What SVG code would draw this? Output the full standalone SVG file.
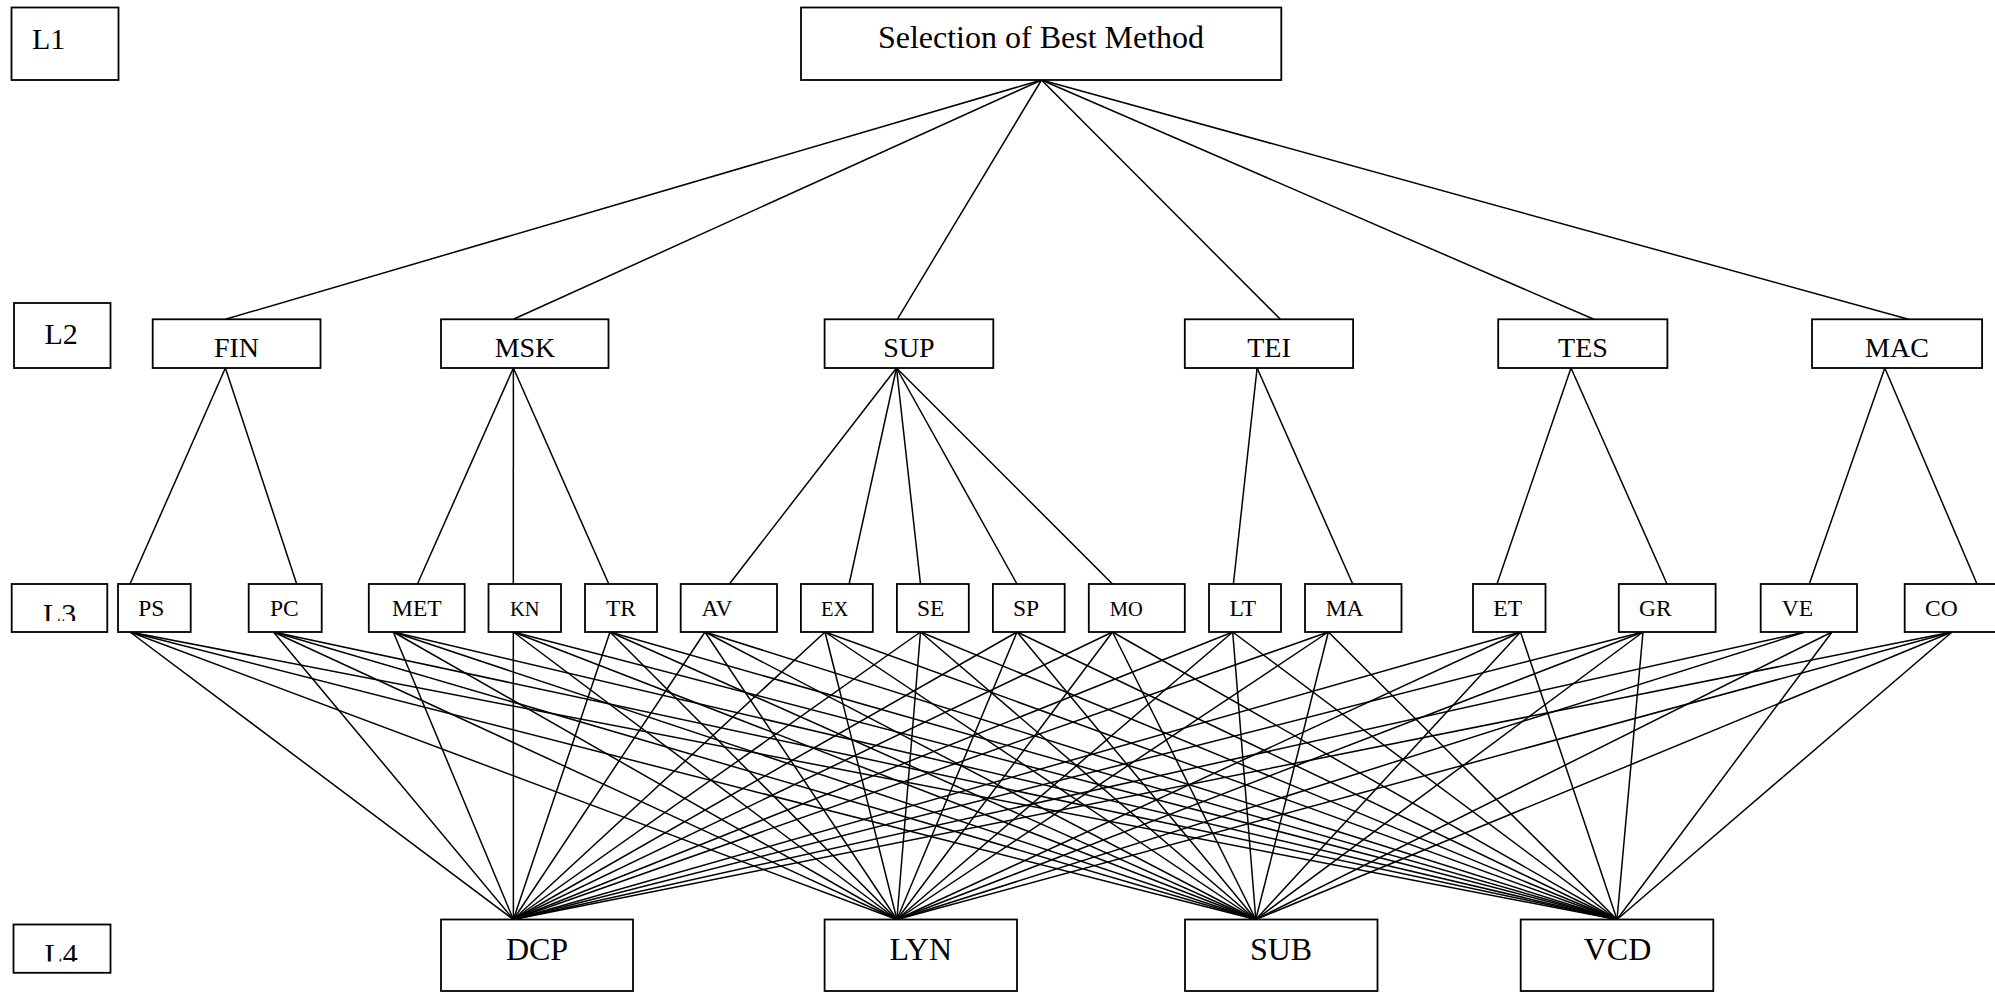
<svg xmlns="http://www.w3.org/2000/svg" width="1995" height="992" viewBox="0 0 1995 992">
<style>
rect{fill:#fff;stroke:#000;stroke-width:1.8}
text{font-family:"Liberation Serif","Times New Roman",serif;fill:#000}
.c line{stroke:#000;stroke-width:1.5}
.t1{font-size:32px}
.lv{font-size:30px}
.t2{font-size:28px;text-anchor:middle}
.t3{font-size:23.5px}
.t3s{font-size:20.5px}
.t4{font-size:32px;text-anchor:middle}
</style>
<defs>
<clipPath id="clipL3"><rect x="0" y="580" width="120" height="41"/></clipPath>
<clipPath id="clipL4"><rect x="0" y="920" width="120" height="41.5"/></clipPath>
</defs>
<rect x="0" y="0" width="1995" height="992" style="stroke:none"/>
<g class="c" id="connectors">
<line x1="1041.5" y1="80" x2="225.4" y2="319.3"/>
<line x1="1041.5" y1="80" x2="513.4" y2="319.3"/>
<line x1="1041.5" y1="80" x2="897.3" y2="319.3"/>
<line x1="1041.5" y1="80" x2="1280.4" y2="319.3"/>
<line x1="1041.5" y1="80" x2="1593.8" y2="319.3"/>
<line x1="1041.5" y1="80" x2="1908.5" y2="319.3"/>
<line x1="225.4" y1="368" x2="130" y2="584"/>
<line x1="225.4" y1="368" x2="296.7" y2="584"/>
<line x1="513.4" y1="368" x2="417.4" y2="584"/>
<line x1="513.4" y1="368" x2="513.3" y2="584"/>
<line x1="513.4" y1="368" x2="608.8" y2="584"/>
<line x1="896.5" y1="368" x2="729.4" y2="584"/>
<line x1="896.5" y1="368" x2="849.1" y2="584"/>
<line x1="896.5" y1="368" x2="920.5" y2="584"/>
<line x1="896.5" y1="368" x2="1017" y2="584"/>
<line x1="896.5" y1="368" x2="1112.5" y2="584"/>
<line x1="1257.1" y1="368" x2="1233.4" y2="584"/>
<line x1="1257.1" y1="368" x2="1352.7" y2="584"/>
<line x1="1571" y1="368" x2="1497" y2="584"/>
<line x1="1571" y1="368" x2="1667" y2="584"/>
<line x1="1884.8" y1="368" x2="1809.3" y2="584"/>
<line x1="1884.8" y1="368" x2="1977" y2="584"/>
<line x1="130" y1="632" x2="513.4" y2="919.5"/>
<line x1="130" y1="632" x2="896.9" y2="919.5"/>
<line x1="130" y1="632" x2="1255.8" y2="919.5"/>
<line x1="130" y1="632" x2="1617" y2="919.5"/>
<line x1="273.5" y1="632" x2="513.4" y2="919.5"/>
<line x1="273.5" y1="632" x2="896.9" y2="919.5"/>
<line x1="273.5" y1="632" x2="1255.8" y2="919.5"/>
<line x1="273.5" y1="632" x2="1617" y2="919.5"/>
<line x1="393.3" y1="632" x2="513.4" y2="919.5"/>
<line x1="393.3" y1="632" x2="896.9" y2="919.5"/>
<line x1="393.3" y1="632" x2="1255.8" y2="919.5"/>
<line x1="393.3" y1="632" x2="1617" y2="919.5"/>
<line x1="513.3" y1="632" x2="513.4" y2="919.5"/>
<line x1="513.3" y1="632" x2="896.9" y2="919.5"/>
<line x1="513.3" y1="632" x2="1255.8" y2="919.5"/>
<line x1="513.3" y1="632" x2="1617" y2="919.5"/>
<line x1="610" y1="632" x2="513.4" y2="919.5"/>
<line x1="610" y1="632" x2="896.9" y2="919.5"/>
<line x1="610" y1="632" x2="1255.8" y2="919.5"/>
<line x1="610" y1="632" x2="1617" y2="919.5"/>
<line x1="705" y1="632" x2="513.4" y2="919.5"/>
<line x1="705" y1="632" x2="896.9" y2="919.5"/>
<line x1="705" y1="632" x2="1255.8" y2="919.5"/>
<line x1="705" y1="632" x2="1617" y2="919.5"/>
<line x1="825" y1="632" x2="513.4" y2="919.5"/>
<line x1="825" y1="632" x2="896.9" y2="919.5"/>
<line x1="825" y1="632" x2="1255.8" y2="919.5"/>
<line x1="825" y1="632" x2="1617" y2="919.5"/>
<line x1="920.5" y1="632" x2="513.4" y2="919.5"/>
<line x1="920.5" y1="632" x2="896.9" y2="919.5"/>
<line x1="920.5" y1="632" x2="1255.8" y2="919.5"/>
<line x1="920.5" y1="632" x2="1617" y2="919.5"/>
<line x1="1017" y1="632" x2="513.4" y2="919.5"/>
<line x1="1017" y1="632" x2="896.9" y2="919.5"/>
<line x1="1017" y1="632" x2="1255.8" y2="919.5"/>
<line x1="1017" y1="632" x2="1617" y2="919.5"/>
<line x1="1112.5" y1="632" x2="513.4" y2="919.5"/>
<line x1="1112.5" y1="632" x2="896.9" y2="919.5"/>
<line x1="1112.5" y1="632" x2="1255.8" y2="919.5"/>
<line x1="1112.5" y1="632" x2="1617" y2="919.5"/>
<line x1="1232.7" y1="632" x2="513.4" y2="919.5"/>
<line x1="1232.7" y1="632" x2="896.9" y2="919.5"/>
<line x1="1232.7" y1="632" x2="1255.8" y2="919.5"/>
<line x1="1232.7" y1="632" x2="1617" y2="919.5"/>
<line x1="1328.4" y1="632" x2="513.4" y2="919.5"/>
<line x1="1328.4" y1="632" x2="896.9" y2="919.5"/>
<line x1="1328.4" y1="632" x2="1255.8" y2="919.5"/>
<line x1="1328.4" y1="632" x2="1617" y2="919.5"/>
<line x1="1520.5" y1="632" x2="513.4" y2="919.5"/>
<line x1="1520.5" y1="632" x2="896.9" y2="919.5"/>
<line x1="1520.5" y1="632" x2="1255.8" y2="919.5"/>
<line x1="1520.5" y1="632" x2="1617" y2="919.5"/>
<line x1="1643" y1="632" x2="513.4" y2="919.5"/>
<line x1="1643" y1="632" x2="896.9" y2="919.5"/>
<line x1="1643" y1="632" x2="1255.8" y2="919.5"/>
<line x1="1643" y1="632" x2="1617" y2="919.5"/>
<line x1="1805" y1="632" x2="513.4" y2="919.5"/>
<line x1="1805" y1="632" x2="896.9" y2="919.5"/>
<line x1="1832" y1="632" x2="1255.8" y2="919.5"/>
<line x1="1832" y1="632" x2="1617" y2="919.5"/>
<line x1="1952" y1="632" x2="513.4" y2="919.5"/>
<line x1="1952" y1="632" x2="896.9" y2="919.5"/>
<line x1="1952" y1="632" x2="1255.8" y2="919.5"/>
<line x1="1952" y1="632" x2="1617" y2="919.5"/>
</g>
<g id="L1"><rect x="11.5" y="7.5" width="107" height="72.5"/><text class="lv" x="32" y="48.5">L1</text></g>
<g id="L2"><rect x="14" y="303" width="96.5" height="65"/><text class="lv" x="44.5" y="343.5">L2</text></g>
<g id="L3"><rect x="11.7" y="584" width="95.6" height="48"/><text class="lv" x="43" y="624" clip-path="url(#clipL3)">L3</text></g>
<g id="L4"><rect x="13.5" y="924.5" width="97" height="48.3"/><text class="lv" x="44.5" y="964" clip-path="url(#clipL4)">L4</text></g>
<g id="root"><rect x="801" y="7.5" width="480.3" height="72.5"/><text class="t1" x="1041" y="47.7" text-anchor="middle">Selection of Best Method</text></g>
<g id="FIN"><rect x="152.7" y="319.3" width="167.8" height="48.7"/><text class="t2" x="236.5" y="356.7">FIN</text></g>
<g id="MSK"><rect x="441" y="319.3" width="167.5" height="48.7"/><text class="t2" x="525" y="356.7">MSK</text></g>
<g id="SUP"><rect x="824.6" y="319.3" width="168.7" height="48.7"/><text class="t2" x="909" y="356.7">SUP</text></g>
<g id="TEI"><rect x="1184.8" y="319.3" width="168.3" height="48.7"/><text class="t2" x="1269" y="356.7">TEI</text></g>
<g id="TES"><rect x="1498.2" y="319.3" width="169.2" height="48.7"/><text class="t2" x="1583" y="356.7">TES</text></g>
<g id="MAC"><rect x="1812" y="319.3" width="170.1" height="48.7"/><text class="t2" x="1897" y="356.7">MAC</text></g>
<g id="PS"><rect x="118" y="584" width="72.7" height="48"/><text class="t3" x="138.3" y="615.7">PS</text></g>
<g id="PC"><rect x="248.7" y="584" width="73" height="48"/><text class="t3" x="270" y="615.7">PC</text></g>
<g id="MET"><rect x="368.8" y="584" width="95.9" height="48"/><text class="t3" x="392" y="615.7">MET</text></g>
<g id="KN"><rect x="488.5" y="584" width="72.5" height="48"/><text class="t3s" x="510" y="615.5">KN</text></g>
<g id="TR"><rect x="585" y="584" width="72" height="48"/><text class="t3" x="606" y="615.7">TR</text></g>
<g id="AV"><rect x="680.7" y="584" width="96.3" height="48"/><text class="t3" x="701.5" y="615.7">AV</text></g>
<g id="EX"><rect x="800.9" y="584" width="71.9" height="48"/><text class="t3s" x="821" y="615.5">EX</text></g>
<g id="SE"><rect x="896.9" y="584" width="71.9" height="48"/><text class="t3" x="917" y="615.7">SE</text></g>
<g id="SP"><rect x="992.9" y="584" width="71.8" height="48"/><text class="t3" x="1013" y="615.7">SP</text></g>
<g id="MO"><rect x="1088.8" y="584" width="96" height="48"/><text class="t3s" x="1109.8" y="615.5">MO</text></g>
<g id="LT"><rect x="1209" y="584" width="72" height="48"/><text class="t3" x="1229.5" y="615.7">LT</text></g>
<g id="MA"><rect x="1305" y="584" width="96.5" height="48"/><text class="t3" x="1325.7" y="615.7">MA</text></g>
<g id="ET"><rect x="1473" y="584" width="72.5" height="48"/><text class="t3" x="1493.3" y="615.7">ET</text></g>
<g id="GR"><rect x="1618.8" y="584" width="96.8" height="48"/><text class="t3" x="1639" y="615.7">GR</text></g>
<g id="VE"><rect x="1760.7" y="584" width="96.3" height="48"/><text class="t3" x="1781.7" y="615.7">VE</text></g>
<g id="CO"><rect x="1904.7" y="584" width="100" height="48"/><text class="t3" x="1925" y="615.7">CO</text></g>
<g id="DCP"><rect x="441" y="919.5" width="192" height="71.5"/><text class="t4" x="537" y="960">DCP</text></g>
<g id="LYN"><rect x="824.6" y="919.5" width="192.4" height="71.5"/><text class="t4" x="920.8" y="960">LYN</text></g>
<g id="SUB"><rect x="1185" y="919.5" width="192.5" height="71.5"/><text class="t4" x="1281" y="960">SUB</text></g>
<g id="VCD"><rect x="1520.7" y="919.5" width="192.6" height="71.5"/><text class="t4" x="1617.5" y="960">VCD</text></g>
</svg>
